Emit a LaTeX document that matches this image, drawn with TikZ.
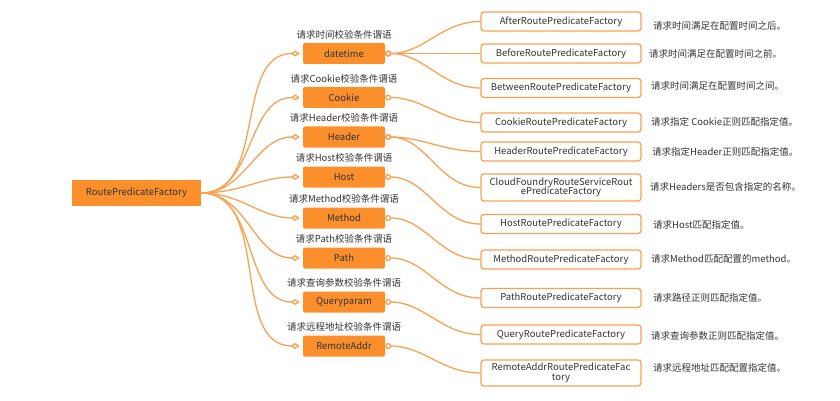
\documentclass[tikz,border=0pt]{standalone}
\usepackage{fontspec}
\setmainfont{Noto Sans CJK SC}
\usetikzlibrary{arrows.meta}
\definecolor{mmorange}{HTML}{FA8F2C}
\definecolor{mmline}{HTML}{F9A152}
\definecolor{mmtext}{HTML}{333333}

\begin{document}
\begin{tikzpicture}[x=1pt,y=-1pt,font=\fontsize{9.5}{10.5}\selectfont,text=mmtext]
    \tikzstyle{root}=[fill=mmorange,minimum width=129pt,minimum height=26pt,inner sep=0pt]
    \tikzstyle{topic}=[fill=mmorange,rounded corners=2pt,minimum width=82pt,minimum height=21pt,inner sep=0pt]
    \tikzstyle{leaf}=[draw=mmline,line width=1.3pt,fill=white,rounded corners=3pt,minimum width=160pt,minimum height=19pt,inner sep=0pt,align=center]
    \tikzstyle{hint}=[anchor=west,inner sep=0pt]
    \tikzstyle{title}=[anchor=south,inner sep=0pt]
    \tikzstyle{branch}=[mmline,line width=1.3pt,-{Diamond[open,length=9pt,width=6pt]}]
    \tikzstyle{twig}=[mmline,line width=1.3pt,{Circle[open,length=6pt]}-]
    \useasboundingbox (0,0) rectangle (840,401);

    \node at (136.5,193) (rpf) [root] {RoutePredicateFactory};

    % middle column
    \node at (344,53.5) (dt) [topic] {datetime};
    \node at (344,97.5) (ck) [topic] {Cookie};
    \node at (344,137) (hd) [topic] {Header};
    \node at (344,177) (hs) [topic] {Host};
    \node at (344,218) (md) [topic] {Method};
    \node at (344,258) (pt) [topic] {Path};
    \node at (344,302) (qp) [topic] {Queryparam};
    \node at (344,346) (ra) [topic] {RemoteAddr};

    \node at (344,39) (dtT) [title] {请求时间校验条件谓语};
    \node at (344,83) (ckT) [title] {请求Cookie校验条件谓语};
    \node at (344,122.5) (hdT) [title] {请求Header校验条件谓语};
    \node at (344,162.5) (hsT) [title] {请求Host校验条件谓语};
    \node at (344,203.5) (mdT) [title] {请求Method校验条件谓语};
    \node at (344,243.5) (ptT) [title] {请求Path校验条件谓语};
    \node at (344,287.5) (qpT) [title] {请求查询参数校验条件谓语};
    \node at (344,331.5) (raT) [title] {请求远程地址校验条件谓语};

    % right column
    \node at (561,21.5) (after) [leaf] {AfterRoutePredicateFactory};
    \node at (561,53.5) (before) [leaf] {BeforeRoutePredicateFactory};
    \node at (561,88) (between) [leaf] {BetweenRoutePredicateFactory};
    \node at (561,122.5) (cookie) [leaf] {CookieRoutePredicateFactory};
    \node at (561,151.5) (header) [leaf] {HeaderRoutePredicateFactory};
    \node at (561,187.5) (cloud) [leaf,minimum height=27pt] {CloudFoundryRouteServiceRout\\[-1pt]ePredicateFactory};
    \node at (561,224) (host) [leaf] {HostRoutePredicateFactory};
    \node at (561,259.5) (method) [leaf] {MethodRoutePredicateFactory};
    \node at (561,298) (path) [leaf] {PathRoutePredicateFactory};
    \node at (561,334.5) (query) [leaf] {QueryRoutePredicateFactory};
    \node at (561,373) (remote) [leaf,minimum height=26pt] {RemoteAddrRoutePredicateFac\\[-1pt]tory};

    \node at (653,26) (afterH) [hint] {请求时间满足在配置时间之后。};
    \node at (649,53.5) (beforeH) [hint] {请求时间满足在配置时间之前。};
    \node at (651,86) (betweenH) [hint] {请求时间满足在配置时间之间。};
    \node at (651,122) (cookieH) [hint] {请求指定 Cookie正则匹配指定值。};
    \node at (652,152) (headerH) [hint] {请求指定Header正则匹配指定值。};
    \node at (650,187) (cloudH) [hint] {请求Headers是否包含指定的名称。};
    \node at (653,225) (hostH) [hint] {请求Host匹配指定值。};
    \node at (651,259) (methodH) [hint] {请求Method匹配配置的method。};
    \node at (653,298) (pathH) [hint] {请求路径正则匹配指定值。};
    \node at (651,336) (queryH) [hint] {请求查询参数正则匹配指定值。};
    \node at (653,368) (remoteH) [hint] {请求远程地址匹配配置指定值。};

    % root to topics
    \draw[branch] (rpf.east) to[out=0,in=180] ([xshift=-3pt]dt.west);
    \draw[branch] (rpf.east) to[out=0,in=180] ([xshift=-3pt]ck.west);
    \draw[branch] (rpf.east) to[out=0,in=180] ([xshift=-3pt]hd.west);
    \draw[branch] (rpf.east) to[out=0,in=180] ([xshift=-3pt]hs.west);
    \draw[branch] (rpf.east) to[out=0,in=180] ([xshift=-3pt]md.west);
    \draw[branch] (rpf.east) to[out=0,in=180] ([xshift=-3pt]pt.west);
    \draw[branch] (rpf.east) to[out=0,in=180] ([xshift=-3pt]qp.west);
    \draw[branch] (rpf.east) to[out=0,in=180] ([xshift=-3pt]ra.west);

    % topics to factories
    \draw[twig] (dt.east) to[out=0,in=180] (after.west);
    \draw[twig] (dt.east) to[out=0,in=180] (before.west);
    \draw[twig] (dt.east) to[out=0,in=180] (between.west);
    \draw[twig] (ck.east) to[out=0,in=180] (cookie.west);
    \draw[twig] (hd.east) to[out=0,in=180] (header.west);
    \draw[twig] (hd.east) to[out=0,in=180] (cloud.west);
    \draw[twig] (hs.east) to[out=0,in=180] (host.west);
    \draw[twig] (md.east) to[out=0,in=180] (method.west);
    \draw[twig] (pt.east) to[out=0,in=180] (path.west);
    \draw[twig] (qp.east) to[out=0,in=180] (query.west);
    \draw[twig] (ra.east) to[out=0,in=180] (remote.west);

\end{tikzpicture}
\end{document}
